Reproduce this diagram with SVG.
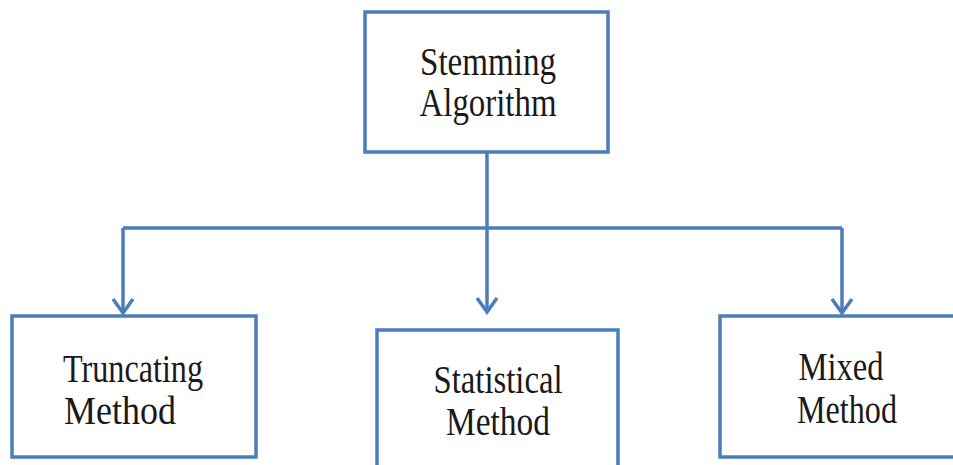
<svg xmlns="http://www.w3.org/2000/svg" width="953" height="465" viewBox="0 0 953 465">
  <style>
    .box { fill: #ffffff; stroke: #4a7ebb; stroke-width: 3.5; }
    .wire { fill: none; stroke: #4a7ebb; stroke-width: 3.5; }
    .label { font-family: "Liberation Serif", "Times New Roman", serif; font-size: 39px; fill: #1a1a1a; text-anchor: middle; }
  </style>
  <defs>
    <!-- open chevron head, drawn pointing along +x so orient="auto" follows the line -->
    <marker id="chevron" markerUnits="userSpaceOnUse" markerWidth="20" markerHeight="26" refX="16" refY="12" orient="auto" viewBox="0 0 20 24" overflow="visible">
      <path d="M2,2 L16,12 L2,22" fill="none" stroke="#4a7ebb" stroke-width="3.5" stroke-linejoin="miter"/>
    </marker>
  </defs>
  <rect width="953" height="465" fill="#ffffff"/>

  <g id="connectors">
    <path class="wire" d="M487,152 V228"/>
    <path class="wire" d="M123,228 H842"/>
    <path class="wire" d="M123,228 V313" marker-end="url(#chevron)"/>
    <path class="wire" d="M487,228 V312" marker-end="url(#chevron)"/>
    <path class="wire" d="M842,228 V313" marker-end="url(#chevron)"/>
  </g>

  <g id="stemming-algorithm">
    <rect class="box" x="365" y="12" width="243" height="140"/>
    <text class="label" x="488" y="75" textLength="136" lengthAdjust="spacingAndGlyphs">Stemming</text>
    <text class="label" x="488" y="116" textLength="137" lengthAdjust="spacingAndGlyphs">Algorithm</text>
  </g>

  <g id="truncating-method">
    <rect class="box" x="12" y="316" width="244" height="141"/>
    <text class="label" x="133" y="382" textLength="140" lengthAdjust="spacingAndGlyphs">Truncating</text>
    <text class="label" x="120" y="424" textLength="112" lengthAdjust="spacingAndGlyphs">Method</text>
  </g>

  <g id="statistical-method">
    <rect class="box" x="377" y="330" width="241" height="150"/>
    <text class="label" x="498" y="393" textLength="129" lengthAdjust="spacingAndGlyphs">Statistical</text>
    <text class="label" x="498" y="435" textLength="104" lengthAdjust="spacingAndGlyphs">Method</text>
  </g>

  <g id="mixed-method">
    <rect class="box" x="720" y="316" width="250" height="141"/>
    <text class="label" x="841" y="380" textLength="85" lengthAdjust="spacingAndGlyphs">Mixed</text>
    <text class="label" x="847" y="423" textLength="100" lengthAdjust="spacingAndGlyphs">Method</text>
  </g>
</svg>
